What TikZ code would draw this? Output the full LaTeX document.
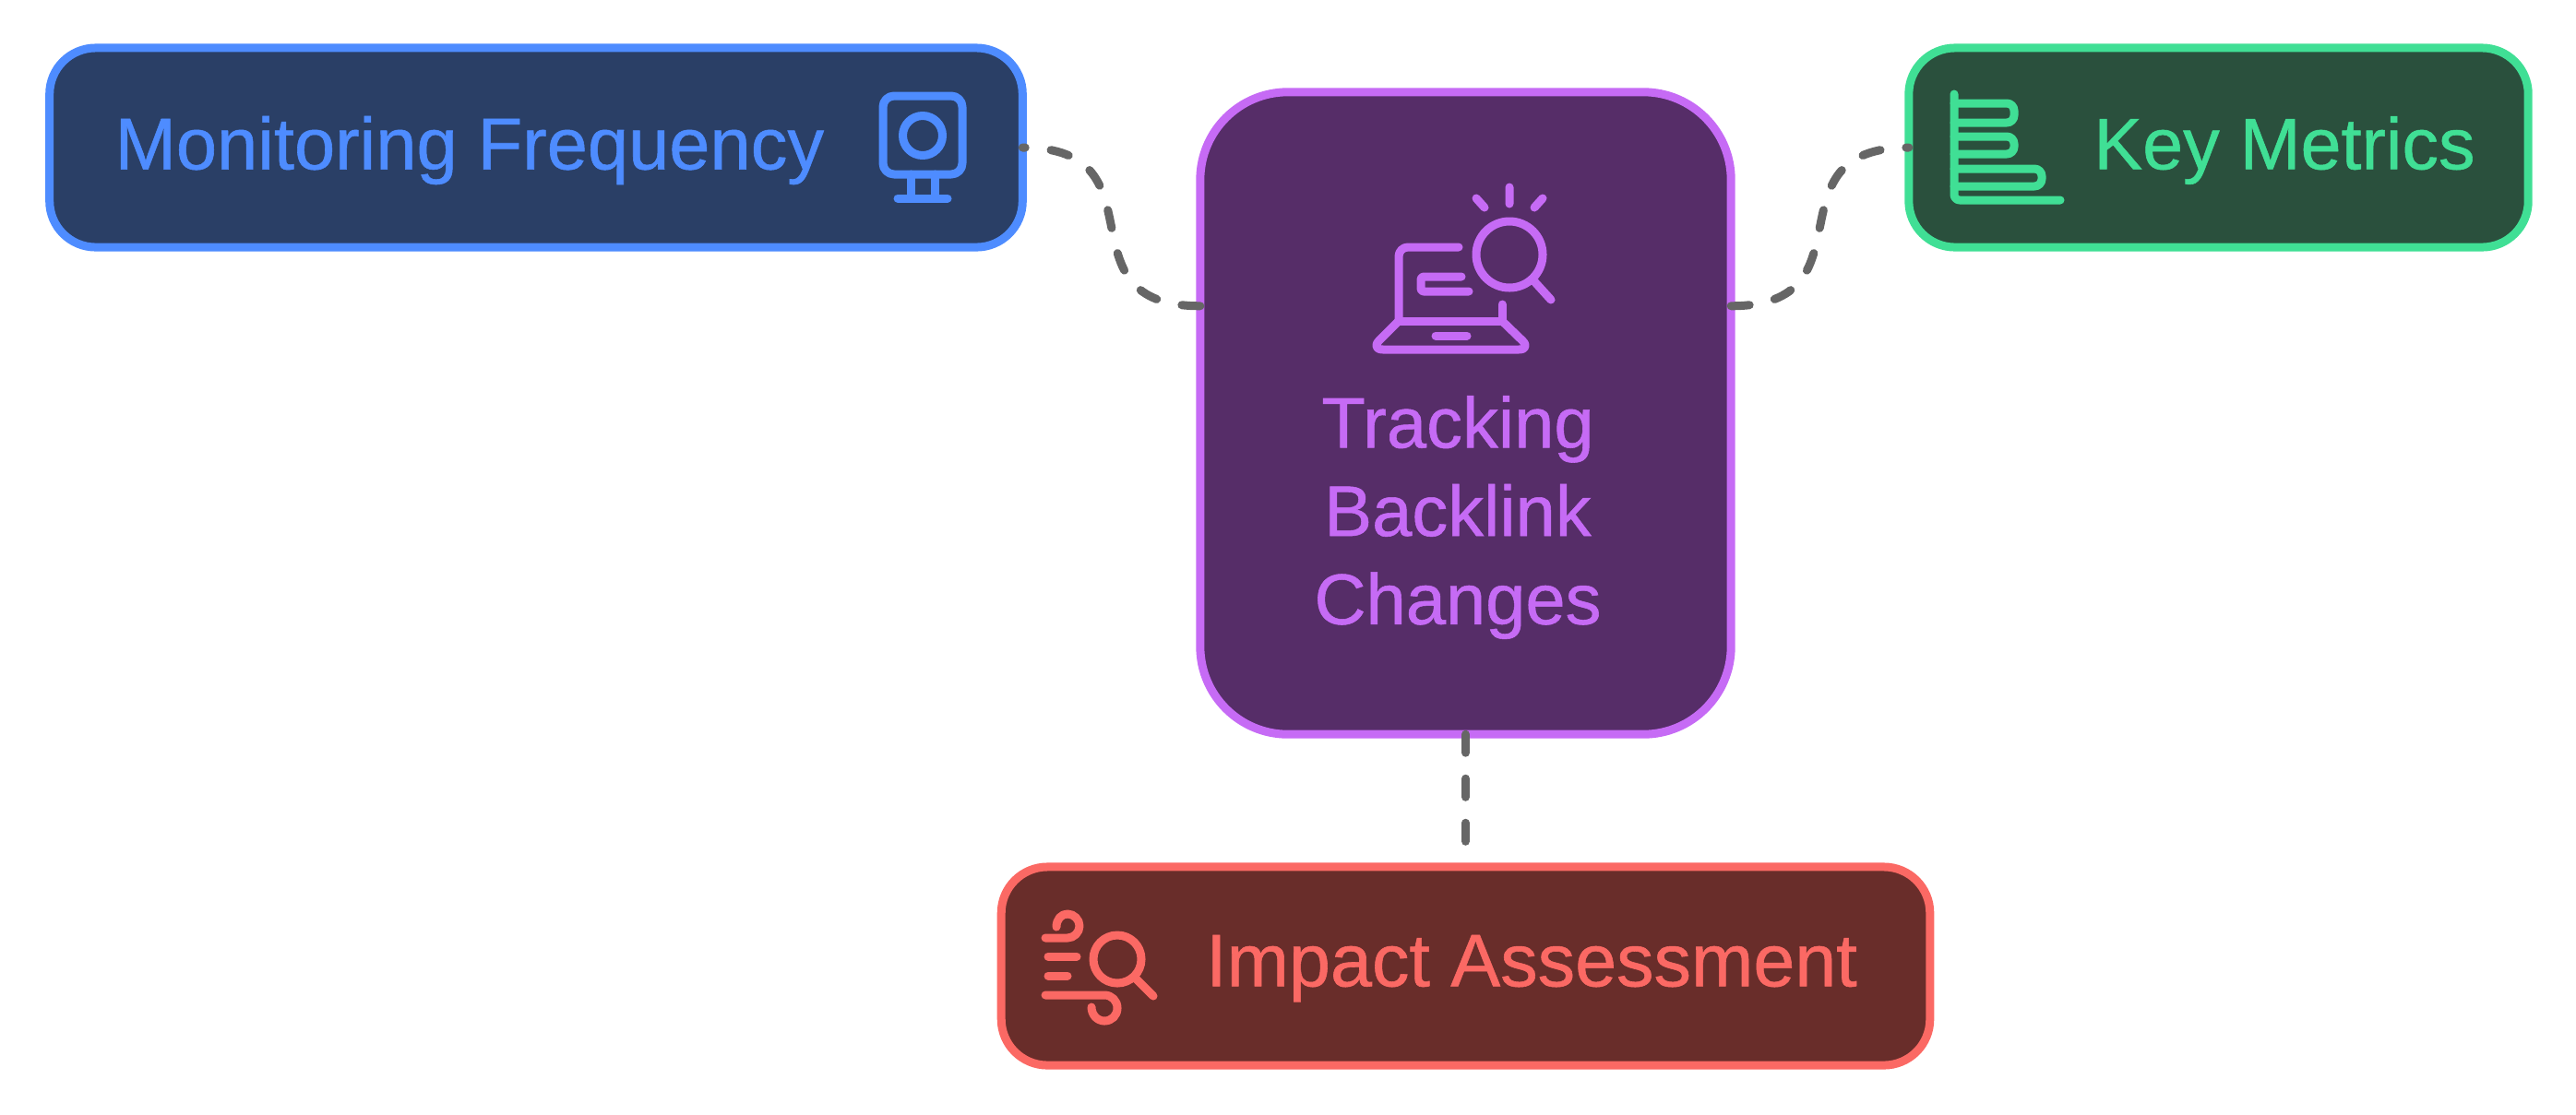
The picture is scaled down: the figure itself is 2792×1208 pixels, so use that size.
\documentclass[tikz,border=0pt]{standalone}
\usepackage{fontspec}
\setmainfont[FakeBold=0.7]{Liberation Sans}
\definecolor{bluel}{HTML}{4E8CFF}
\definecolor{bluef}{HTML}{2A3F66}
\definecolor{purplel}{HTML}{C66BF5}
\definecolor{purplef}{HTML}{562D68}
\definecolor{greenl}{HTML}{40DF95}
\definecolor{greenf}{HTML}{2A503D}
\definecolor{redl}{HTML}{FB6964}
\definecolor{redf}{HTML}{692D2A}
\definecolor{linkgray}{HTML}{666666}
\tikzset{
  box/.style={shape=rectangle, line width=0.09cm, outer sep=0pt, rounded corners=0.5cm},
  icon/.style={line width=0.09cm, line cap=round, line join=round},
  label/.style={font=\fontsize{#1}{27.2}\selectfont, align=center},
  link/.style={draw=linkgray, line width=0.09cm, line cap=round, dash pattern=on 0.2cm off 0.28cm}
}

\begin{document}
\begin{tikzpicture}[x=0.01cm, y=-0.01cm]
      \useasboundingbox (0,0) rectangle (2792,1208);
      % boxes
      \node (mon) at (581,160) [box, draw=bluel, fill=bluef, minimum width=10.54cm, minimum height=2.16cm] {};
      \node (track) at (1588.5,448) [box, draw=purplel, fill=purplef, minimum width=5.75cm, minimum height=6.96cm, rounded corners=0.95cm] {};
      \node (keys) at (2404.5,160) [box, draw=greenl, fill=greenf, minimum width=6.71cm, minimum height=2.16cm] {};
      \node (impact) at (1588.5,1047.5) [box, draw=redl, fill=redf, minimum width=10.06cm, minimum height=2.15cm] {};
      % texts
      \node (monlabel) at (509,163) [label=22.6, text=bluel] {Monitoring Frequency};
      \node (tracklabel) at (1580,561) [label=22.1, text=purplel] {Tracking\\Backlink\\Changes};
      \node (keyslabel) at (2476,163) [label=22.5, text=greenl] {Key Metrics};
      \node (impactlabel) at (1660,1050) [label=23, text=redl] {Impact Assessment};
      % links
      \draw [link] (track.158) .. controls +(-158,0) and +(158,0) .. (mon.east);
      \draw [link] (track.22) .. controls +(158,0) and +(-158,0) .. (keys.west);
      \draw [link, shorten >=0.2cm] (track.south) -- (impact.north);
      % icon of the monitor
      \draw [icon, draw=bluel, rounded corners=0.12cm] (957,104) rectangle (1043,189);
      \draw [icon, draw=bluel] (1000,147) circle (21.5);
      \draw [icon, draw=bluel] (987,189) -- (987,215) (1013,189) -- (1013,215) (973,215) -- (1027,215);
      % icon of the laptop
      \draw [icon, draw=purplel] (1636,203) -- (1636,221) (1600,215) -- (1609,225) (1672,215) -- (1663,225);
      \draw [icon, draw=purplel] (1636,276) circle (36);
      \draw [icon, draw=purplel] (1661,303) -- (1681,325);
      \draw [icon, draw=purplel, rounded corners=0.1cm] (1581,268) -- (1516,268) -- (1516,348);
      \draw [icon, draw=purplel] (1628,330) -- (1628,348);
      \draw [icon, draw=purplel, rounded corners=0.03cm] (1584,300) -- (1540,300) -- (1540,316) -- (1592,316);
      \draw [icon, draw=purplel] (1516,348) -- (1628,348);
      \draw [icon, draw=purplel, rounded corners=0.14cm] (1516,348) -- (1485,379) -- (1660,379) -- (1628,348);
      \draw [icon, draw=purplel] (1556,364) -- (1590,364);
      % icon of the bars
      \draw [icon, draw=greenl, rounded corners=0.06cm] (2118,102) -- (2118,217) -- (2233,217);
      \draw [icon, draw=greenl, rounded corners=0.08cm] (2118,112) -- (2183,112) -- (2183,133) -- (2118,133);
      \draw [icon, draw=greenl, rounded corners=0.08cm] (2118,148) -- (2183,148) -- (2183,167) -- (2118,167);
      \draw [icon, draw=greenl, rounded corners=0.08cm] (2118,183) -- (2213,183) -- (2213,202) -- (2118,202);
      % icon of the wind
      \draw [icon, draw=redl] (1211,1040) circle (26);
      \draw [icon, draw=redl] (1230,1060) -- (1250,1080);
      \draw [icon, draw=redl] (1145,1005) .. controls (1145,997) and (1150,991) .. (1157,991) .. controls (1164,991) and (1170,997) .. (1170,1004) .. controls (1170,1011) and (1164,1017) .. (1157,1017) -- (1133,1017);
      \draw [icon, draw=redl] (1136,1037) -- (1167,1037) (1136,1058) -- (1157,1058);
      \draw [icon, draw=redl] (1133,1079) -- (1197,1079) .. controls (1205,1079) and (1211,1085) .. (1211,1093) .. controls (1211,1101) and (1205,1107) .. (1197,1107) .. controls (1189,1107) and (1183,1100) .. (1183,1092);
    \end{tikzpicture}
\end{document}
